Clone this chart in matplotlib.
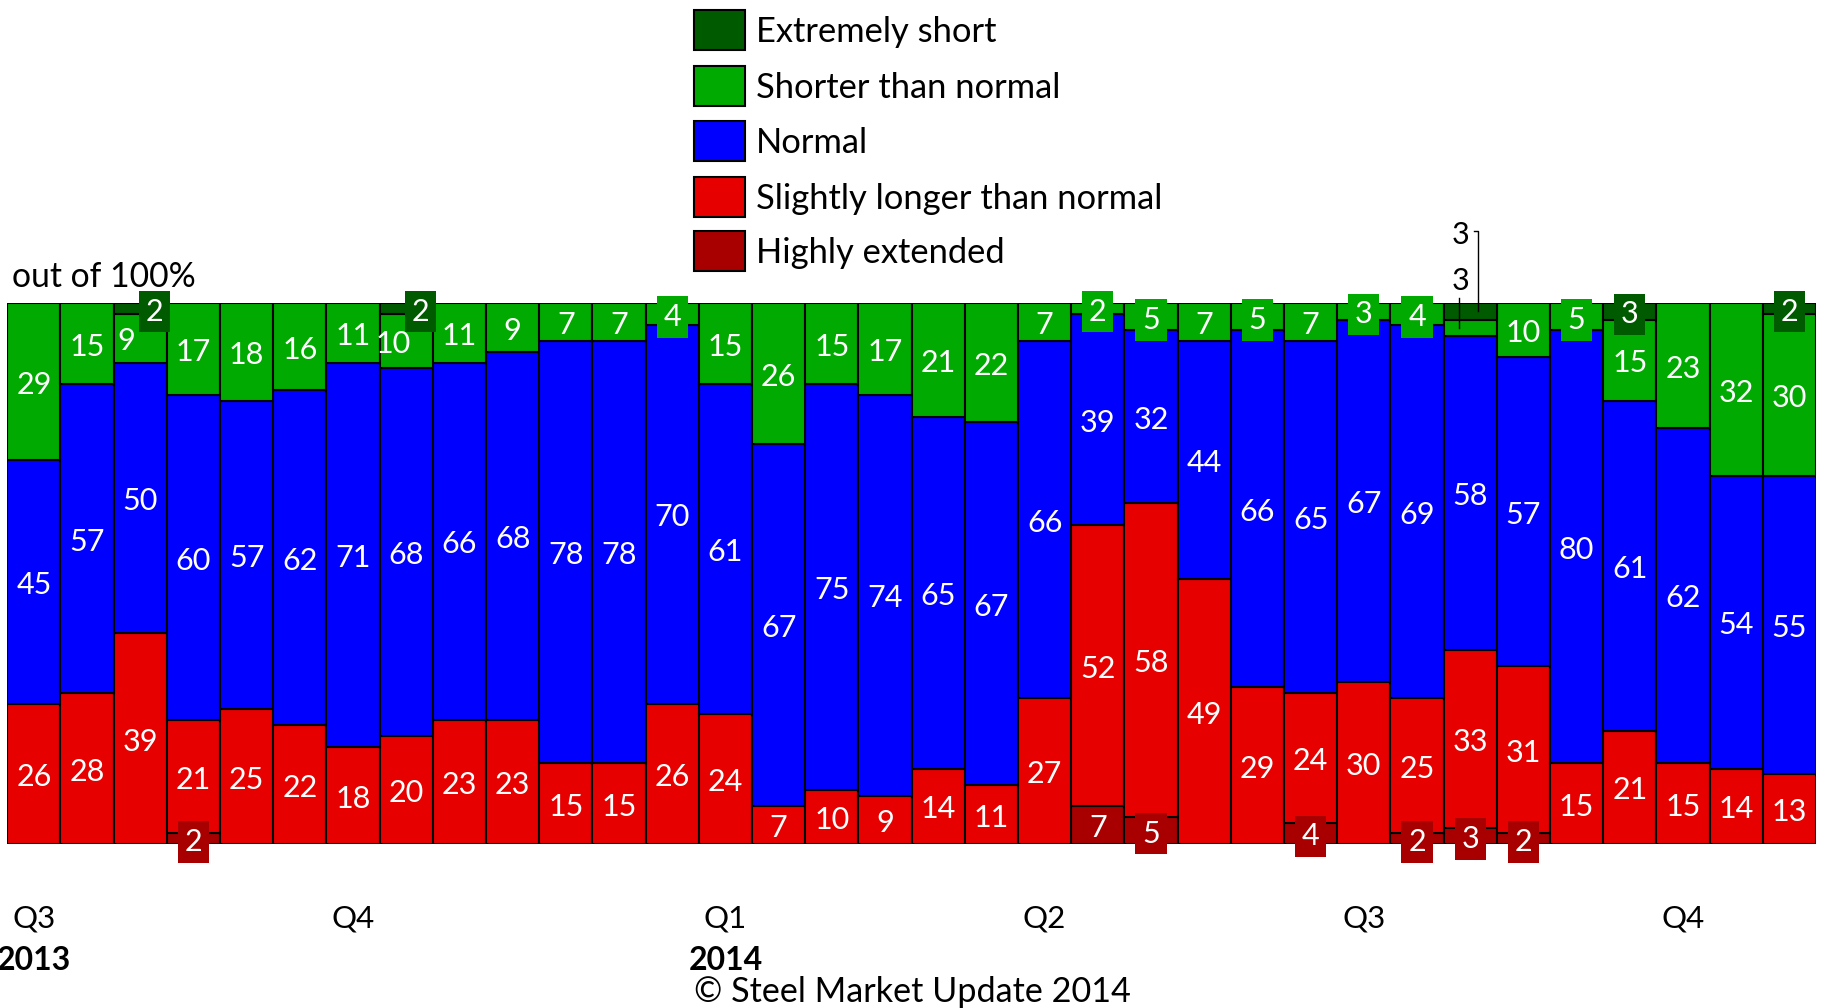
import matplotlib
matplotlib.use("Agg")
import matplotlib.pyplot as plt
from matplotlib.patches import Rectangle
from matplotlib.transforms import offset_copy
import numpy as np

plt.rcParams['font.family'] = ['Lato', 'DejaVu Sans']

# ---------------- data ----------------
series_names = ["Extremely short", "Shorter than normal", "Normal",
                "Slightly longer than normal", "Highly extended"]
series_colors = ["#005A00", "#00AA00", "#0000FF", "#E60000", "#A80000"]

highly_extended = [0, 0, 0, 2, 0, 0, 0, 0, 0, 0, 0, 0, 0, 0, 0, 0, 0,
                   0, 0, 0, 7, 5, 0, 0, 4, 0, 2, 3, 2, 0, 0, 0, 0, 0]
slightly_longer = [26, 28, 39, 21, 25, 22, 18, 20, 23, 23, 15, 15, 26, 24, 7, 10, 9,
                   14, 11, 27, 52, 58, 49, 29, 24, 30, 25, 33, 31, 15, 21, 15, 14, 13]
normal = [45, 57, 50, 60, 57, 62, 71, 68, 66, 68, 78, 78, 70, 61, 67, 75, 74,
          65, 67, 66, 39, 32, 44, 66, 65, 67, 69, 58, 57, 80, 61, 62, 54, 55]
shorter = [29, 15, 9, 17, 18, 16, 11, 10, 11, 9, 7, 7, 4, 15, 26, 15, 17,
           21, 22, 7, 2, 5, 7, 5, 7, 3, 4, 3, 10, 5, 15, 23, 32, 30]
extremely_short = [0, 0, 2, 0, 0, 0, 0, 2, 0, 0, 0, 0, 0, 0, 0, 0, 0,
                   0, 0, 0, 0, 0, 0, 0, 0, 0, 0, 3, 0, 0, 3, 0, 0, 2]

quarter_labels = ["Q3", "Q4", "Q1", "Q2", "Q3", "Q4"]
quarter_bars = [0, 6, 13, 19, 25, 31]
year_labels = ["2013", "2014"]
year_bars = [0, 13]

# ---------------- figure ----------------
W, H = 1825, 1008
fig = plt.figure(figsize=(W / 100, H / 100), dpi=100)
left, right, top, bottom = 7.3, 1816, 303.3, 844.3
ax = fig.add_axes([left / W, 1 - bottom / H, (right - left) / W, (bottom - top) / H])

n = len(normal)
x = np.arange(n)
# stacking order bottom -> top
stack = [highly_extended, slightly_longer, normal, shorter, extremely_short]
stack_colors = [series_colors[4], series_colors[3], series_colors[2],
                series_colors[1], series_colors[0]]

bottoms = np.zeros(n)
centers = []
for vals, col in zip(stack, stack_colors):
    v = np.array(vals, dtype=float)
    m = v > 0
    ax.bar(x[m], v[m], bottom=bottoms[m], width=1.0, color=col,
           edgecolor="black", linewidth=1.5, zorder=2)
    centers.append(bottoms + v / 2)
    bottoms = bottoms + v

ax.set_xlim(-0.5, n - 0.5)
ax.set_ylim(0, 100)
ax.axis("off")

# manual label offsets (pixels) : (stack index, bar) -> (dx, dy)
offsets = {(4, 2): (14, 0), (4, 7): (14, 0), (3, 2): (-14, 0), (3, 7): (-13, 0)}
special_bar = 27  # labels drawn outside with leader lines

FS = 22
for si, vals in enumerate(stack):
    for i, v in enumerate(vals):
        if v <= 0:
            continue
        if i == special_bar and si in (3, 4):
            continue
        dx, dy = offsets.get((si, i), (0, 0))
        tr = offset_copy(ax.transData, fig=fig, x=dx, y=dy - 3, units="dots")
        kw = {}
        if v <= 5:
            kw["bbox"] = dict(boxstyle="square,pad=0.22", facecolor=stack_colors[si],
                              edgecolor="none")
        ax.text(i, centers[si][i], str(v), transform=tr, ha="center", va="center",
                color="white", fontsize=FS, zorder=5, clip_on=False, **kw)

# special bar: black labels with leader lines
i = special_bar
inv = ax.transData.inverted()
# extremely short (top)
ax.text(i, centers[4][i], str(extremely_short[i]),
        transform=offset_copy(ax.transData, fig=fig, x=-10, y=76, units="dots"),
        ha="center", va="center", color="black", fontsize=FS, zorder=5, clip_on=False)
px, py = ax.transData.transform((i, centers[4][i]))
pts = inv.transform([(px + 4, py + 80), (px + 8, py + 80), (px + 8, py)])
ax.plot(pts[:, 0], pts[:, 1], color="black", lw=1.0, zorder=6, clip_on=False)
# shorter than normal
ax.text(i, centers[3][i], str(shorter[i]),
        transform=offset_copy(ax.transData, fig=fig, x=-10, y=47, units="dots"),
        ha="center", va="center", color="black", fontsize=FS, zorder=5, clip_on=False)
px, py = ax.transData.transform((i, centers[3][i]))
pts = inv.transform([(px - 11, py + 30), (px - 11, py)])
ax.plot(pts[:, 0], pts[:, 1], color="black", lw=1.0, zorder=6, clip_on=False)

# x labels
for lab, b in zip(quarter_labels, quarter_bars):
    xf = ax.transData.transform((b, 0))[0] / W
    fig.text(xf, 1 - 918 / H, lab, ha="center", va="center", fontsize=22.5, color="black")
for lab, b in zip(year_labels, year_bars):
    xf = ax.transData.transform((b, 0))[0] / W
    fig.text(xf, 1 - 961 / H, lab, ha="center", va="center", fontsize=23,
             fontweight="bold", color="black")

fig.text(12 / W, 1 - 287 / H, "out of 100%", ha="left", va="baseline", fontsize=24.3)
fig.text(912 / W, 1 - 992 / H, "\u00a9 Steel Market Update 2014", ha="center",
         va="center", fontsize=24.6)

# legend
row_y = [30, 86, 141, 197, 251]
for name, col, yc in zip(series_names, series_colors, row_y):
    fig.add_artist(Rectangle((694 / W, 1 - (yc + 20) / H), 51 / W, 40 / H,
                             facecolor=col, edgecolor="black", linewidth=1.5,
                             transform=fig.transFigure))
    fig.text(756 / W, 1 - (yc + 2) / H, name, ha="left", va="center", fontsize=24.8)

fig.savefig("out.png", dpi=100)
